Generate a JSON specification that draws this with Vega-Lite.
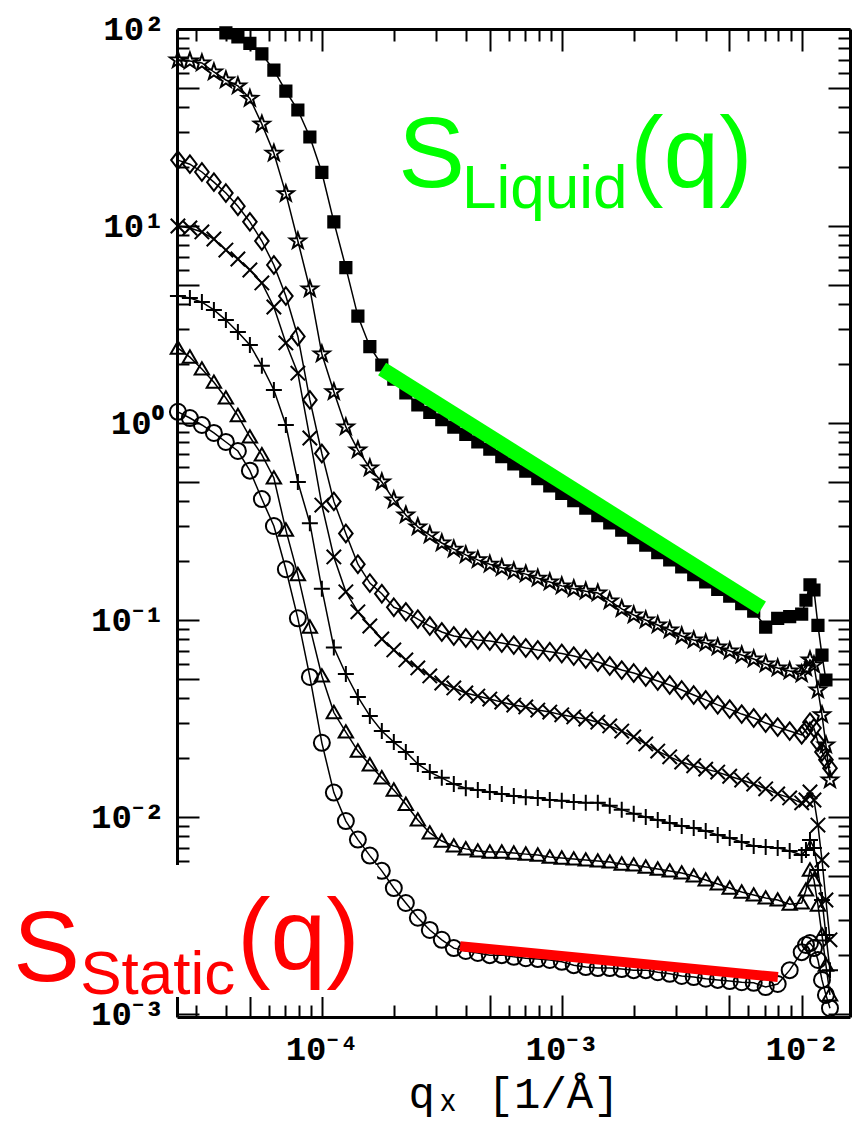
{
  "$schema": "https://vega.github.io/schema/vega-lite/v6.json",
  "width": 673,
  "height": 988,
  "autosize": {"type": "none"},
  "padding": {"left": 177, "top": 29, "right": 5, "bottom": 105},
  "background": "white",
  "config": {
    "view": {"stroke": null},
    "axis": {
      "grid": false,
      "domainColor": "black",
      "domainWidth": 3,
      "tickColor": "black",
      "tickWidth": 2,
      "labelColor": "black",
      "labelFont": "Liberation Mono, Noto Sans",
      "labelFontSize": 34,
      "labelFontWeight": "bold",
      "labelFlush": false,
      "labelOverlap": false,
      "titleColor": "black",
      "titleFont": "Liberation Mono, Noto Sans",
      "titleFontSize": 44,
      "titleFontWeight": "normal"
    }
  },
  "datasets": {
    "curves": [
      {"s":"c1","q":3.981e-5,"v":95.5},{"s":"c1","q":4.467e-5,"v":91.3},{"s":"c1","q":5.012e-5,"v":84.5},{"s":"c1","q":5.623e-5,"v":74.7},{"s":"c1","q":6.31e-5,"v":61.9},{"s":"c1","q":7.079e-5,"v":48.4},{"s":"c1","q":7.943e-5,"v":38.8},{"s":"c1","q":8.913e-5,"v":28.3},{"s":"c1","q":1e-4,"v":18.7},{"s":"c1","q":1.122e-4,"v":10.5},{"s":"c1","q":1.259e-4,"v":6.15},{"s":"c1","q":1.413e-4,"v":3.49},{"s":"c1","q":1.585e-4,"v":2.44},{"s":"c1","q":1.778e-4,"v":1.97},{"s":"c1","q":1.995e-4,"v":1.67},{"s":"c1","q":2.239e-4,"v":1.42},{"s":"c1","q":2.512e-4,"v":1.234},{"s":"c1","q":2.818e-4,"v":1.132},{"s":"c1","q":3.162e-4,"v":1.039},{"s":"c1","q":3.548e-4,"v":0.953},{"s":"c1","q":3.981e-4,"v":0.875},{"s":"c1","q":4.467e-4,"v":0.802},{"s":"c1","q":5.012e-4,"v":0.736},{"s":"c1","q":5.623e-4,"v":0.675},{"s":"c1","q":6.31e-4,"v":0.62},{"s":"c1","q":7.079e-4,"v":0.569},{"s":"c1","q":7.943e-4,"v":0.522},{"s":"c1","q":8.913e-4,"v":0.479},{"s":"c1","q":1e-3,"v":0.439},{"s":"c1","q":1.122e-3,"v":0.403},{"s":"c1","q":1.259e-3,"v":0.37},{"s":"c1","q":1.413e-3,"v":0.339},{"s":"c1","q":1.585e-3,"v":0.311},{"s":"c1","q":1.778e-3,"v":0.286},{"s":"c1","q":1.995e-3,"v":0.262},{"s":"c1","q":2.239e-3,"v":0.24},{"s":"c1","q":2.512e-3,"v":0.22},{"s":"c1","q":2.818e-3,"v":0.202},{"s":"c1","q":3.162e-3,"v":0.186},{"s":"c1","q":3.548e-3,"v":0.17},{"s":"c1","q":3.981e-3,"v":0.156},{"s":"c1","q":4.467e-3,"v":0.143},{"s":"c1","q":5.012e-3,"v":0.132},{"s":"c1","q":5.623e-3,"v":0.121},{"s":"c1","q":6.31e-3,"v":0.111},{"s":"c1","q":7.079e-3,"v":0.092},{"s":"c1","q":7.943e-3,"v":0.102},{"s":"c1","q":8.913e-3,"v":0.104},{"s":"c1","q":0.01,"v":0.107},{"s":"c1","q":0.01042,"v":0.126},{"s":"c1","q":0.01083,"v":0.151},{"s":"c1","q":0.01125,"v":0.142},{"s":"c1","q":0.01169,"v":0.094},{"s":"c1","q":0.01215,"v":0.0664},{"s":"c1","q":0.01262,"v":0.0496},

      {"s":"c2","q":2.512e-5,"v":69.6},{"s":"c2","q":2.818e-5,"v":68.8},{"s":"c2","q":3.162e-5,"v":67.2},{"s":"c2","q":3.548e-5,"v":60.5},{"s":"c2","q":3.981e-5,"v":55.1},{"s":"c2","q":4.467e-5,"v":51.4},{"s":"c2","q":5.012e-5,"v":44.4},{"s":"c2","q":5.623e-5,"v":32.9},{"s":"c2","q":6.31e-5,"v":23.4},{"s":"c2","q":7.079e-5,"v":14.6},{"s":"c2","q":7.943e-5,"v":8.39},{"s":"c2","q":8.913e-5,"v":4.79},{"s":"c2","q":1e-4,"v":2.24},{"s":"c2","q":1.122e-4,"v":1.44},{"s":"c2","q":1.259e-4,"v":0.955},{"s":"c2","q":1.413e-4,"v":0.73},{"s":"c2","q":1.585e-4,"v":0.591},{"s":"c2","q":1.778e-4,"v":0.502},{"s":"c2","q":1.995e-4,"v":0.407},{"s":"c2","q":2.239e-4,"v":0.341},{"s":"c2","q":2.512e-4,"v":0.297},{"s":"c2","q":2.818e-4,"v":0.27},{"s":"c2","q":3.162e-4,"v":0.246},{"s":"c2","q":3.548e-4,"v":0.229},{"s":"c2","q":3.981e-4,"v":0.214},{"s":"c2","q":4.467e-4,"v":0.202},{"s":"c2","q":5.012e-4,"v":0.192},{"s":"c2","q":5.623e-4,"v":0.184},{"s":"c2","q":6.31e-4,"v":0.177},{"s":"c2","q":7.079e-4,"v":0.171},{"s":"c2","q":7.943e-4,"v":0.163},{"s":"c2","q":8.913e-4,"v":0.156},{"s":"c2","q":1e-3,"v":0.149},{"s":"c2","q":1.122e-3,"v":0.144},{"s":"c2","q":1.259e-3,"v":0.14},{"s":"c2","q":1.413e-3,"v":0.137},{"s":"c2","q":1.585e-3,"v":0.125},{"s":"c2","q":1.778e-3,"v":0.114},{"s":"c2","q":1.995e-3,"v":0.106},{"s":"c2","q":2.239e-3,"v":0.1},{"s":"c2","q":2.512e-3,"v":0.0944},{"s":"c2","q":2.818e-3,"v":0.089},{"s":"c2","q":3.162e-3,"v":0.083},{"s":"c2","q":3.548e-3,"v":0.0791},{"s":"c2","q":3.981e-3,"v":0.0764},{"s":"c2","q":4.467e-3,"v":0.0729},{"s":"c2","q":5.012e-3,"v":0.0696},{"s":"c2","q":5.623e-3,"v":0.0664},{"s":"c2","q":6.31e-3,"v":0.0634},{"s":"c2","q":7.079e-3,"v":0.0598},{"s":"c2","q":7.943e-3,"v":0.0571},{"s":"c2","q":8.913e-3,"v":0.0551},{"s":"c2","q":0.01,"v":0.0532},{"s":"c2","q":0.01042,"v":0.057},{"s":"c2","q":0.01083,"v":0.0627},{"s":"c2","q":0.01125,"v":0.0591},{"s":"c2","q":0.01169,"v":0.0441},{"s":"c2","q":0.01215,"v":0.033},{"s":"c2","q":0.01262,"v":0.0232},{"s":"c2","q":0.01312,"v":0.0154},

      {"s":"c3","q":2.512e-5,"v":21.6},{"s":"c3","q":2.818e-5,"v":20.6},{"s":"c3","q":3.162e-5,"v":18.8},{"s":"c3","q":3.548e-5,"v":16.7},{"s":"c3","q":3.981e-5,"v":14.7},{"s":"c3","q":4.467e-5,"v":12.6},{"s":"c3","q":5.012e-5,"v":10.5},{"s":"c3","q":5.623e-5,"v":8.39},{"s":"c3","q":6.31e-5,"v":6.34},{"s":"c3","q":7.079e-5,"v":4.41},{"s":"c3","q":7.943e-5,"v":2.75},{"s":"c3","q":8.913e-5,"v":1.31},{"s":"c3","q":1e-4,"v":0.7},{"s":"c3","q":1.122e-4,"v":0.4},{"s":"c3","q":1.259e-4,"v":0.275},{"s":"c3","q":1.413e-4,"v":0.192},{"s":"c3","q":1.585e-4,"v":0.154},{"s":"c3","q":1.778e-4,"v":0.136},{"s":"c3","q":1.995e-4,"v":0.116},{"s":"c3","q":2.239e-4,"v":0.11},{"s":"c3","q":2.512e-4,"v":0.101},{"s":"c3","q":2.818e-4,"v":0.0932},{"s":"c3","q":3.162e-4,"v":0.0869},{"s":"c3","q":3.548e-4,"v":0.083},{"s":"c3","q":3.981e-4,"v":0.081},{"s":"c3","q":4.467e-4,"v":0.0791},{"s":"c3","q":5.012e-4,"v":0.0782},{"s":"c3","q":5.623e-4,"v":0.0764},{"s":"c3","q":6.31e-4,"v":0.0746},{"s":"c3","q":7.079e-4,"v":0.0721},{"s":"c3","q":7.943e-4,"v":0.0704},{"s":"c3","q":8.913e-4,"v":0.069},{"s":"c3","q":1e-3,"v":0.0676},{"s":"c3","q":1.122e-3,"v":0.0656},{"s":"c3","q":1.259e-3,"v":0.0634},{"s":"c3","q":1.413e-3,"v":0.0612},{"s":"c3","q":1.585e-3,"v":0.0584},{"s":"c3","q":1.778e-3,"v":0.0557},{"s":"c3","q":1.995e-3,"v":0.0538},{"s":"c3","q":2.239e-3,"v":0.0514},{"s":"c3","q":2.512e-3,"v":0.049},{"s":"c3","q":2.818e-3,"v":0.0468},{"s":"c3","q":3.162e-3,"v":0.0441},{"s":"c3","q":3.548e-3,"v":0.0416},{"s":"c3","q":3.981e-3,"v":0.0393},{"s":"c3","q":4.467e-3,"v":0.0371},{"s":"c3","q":5.012e-3,"v":0.0353},{"s":"c3","q":5.623e-3,"v":0.0333},{"s":"c3","q":6.31e-3,"v":0.0318},{"s":"c3","q":7.079e-3,"v":0.03},{"s":"c3","q":7.943e-3,"v":0.0286},{"s":"c3","q":8.913e-3,"v":0.0273},{"s":"c3","q":0.01,"v":0.0261},{"s":"c3","q":0.01042,"v":0.0277},{"s":"c3","q":0.01083,"v":0.0303},{"s":"c3","q":0.01125,"v":0.0283},{"s":"c3","q":0.01169,"v":0.024},{"s":"c3","q":0.01215,"v":0.0214},{"s":"c3","q":0.01262,"v":0.0195},{"s":"c3","q":0.01312,"v":0.0177},

      {"s":"c4","q":2.512e-5,"v":10.0},{"s":"c4","q":2.818e-5,"v":9.77},{"s":"c4","q":3.162e-5,"v":9.33},{"s":"c4","q":3.548e-5,"v":8.59},{"s":"c4","q":3.981e-5,"v":7.55},{"s":"c4","q":4.467e-5,"v":6.8},{"s":"c4","q":5.012e-5,"v":5.98},{"s":"c4","q":5.623e-5,"v":5.14},{"s":"c4","q":6.31e-5,"v":3.88},{"s":"c4","q":7.079e-5,"v":2.55},{"s":"c4","q":7.943e-5,"v":1.79},{"s":"c4","q":8.913e-5,"v":0.839},{"s":"c4","q":1e-4,"v":0.383},{"s":"c4","q":1.122e-4,"v":0.209},{"s":"c4","q":1.259e-4,"v":0.139},{"s":"c4","q":1.413e-4,"v":0.11},{"s":"c4","q":1.585e-4,"v":0.0932},{"s":"c4","q":1.778e-4,"v":0.0801},{"s":"c4","q":1.995e-4,"v":0.0705},{"s":"c4","q":2.239e-4,"v":0.0627},{"s":"c4","q":2.512e-4,"v":0.0571},{"s":"c4","q":2.818e-4,"v":0.052},{"s":"c4","q":3.162e-4,"v":0.0479},{"s":"c4","q":3.548e-4,"v":0.0452},{"s":"c4","q":3.981e-4,"v":0.0426},{"s":"c4","q":4.467e-4,"v":0.0411},{"s":"c4","q":5.012e-4,"v":0.0397},{"s":"c4","q":5.623e-4,"v":0.0383},{"s":"c4","q":6.31e-4,"v":0.037},{"s":"c4","q":7.079e-4,"v":0.0362},{"s":"c4","q":7.943e-4,"v":0.0349},{"s":"c4","q":8.913e-4,"v":0.0341},{"s":"c4","q":1e-3,"v":0.033},{"s":"c4","q":1.122e-3,"v":0.0322},{"s":"c4","q":1.259e-3,"v":0.0314},{"s":"c4","q":1.413e-3,"v":0.0303},{"s":"c4","q":1.585e-3,"v":0.029},{"s":"c4","q":1.778e-3,"v":0.0273},{"s":"c4","q":1.995e-3,"v":0.0255},{"s":"c4","q":2.239e-3,"v":0.0235},{"s":"c4","q":2.512e-3,"v":0.0216},{"s":"c4","q":2.818e-3,"v":0.0202},{"s":"c4","q":3.162e-3,"v":0.019},{"s":"c4","q":3.548e-3,"v":0.0182},{"s":"c4","q":3.981e-3,"v":0.0175},{"s":"c4","q":4.467e-3,"v":0.0169},{"s":"c4","q":5.012e-3,"v":0.0161},{"s":"c4","q":5.623e-3,"v":0.0154},{"s":"c4","q":6.31e-3,"v":0.0147},{"s":"c4","q":7.079e-3,"v":0.0139},{"s":"c4","q":7.943e-3,"v":0.0131},{"s":"c4","q":8.913e-3,"v":0.0125},{"s":"c4","q":0.01,"v":0.0118},{"s":"c4","q":0.01042,"v":0.0122},{"s":"c4","q":0.01083,"v":0.0134},{"s":"c4","q":0.01125,"v":0.0122},{"s":"c4","q":0.01169,"v":0.0091},{"s":"c4","q":0.01215,"v":0.00605},{"s":"c4","q":0.01262,"v":0.00379},{"s":"c4","q":0.01312,"v":0.00238},

      {"s":"c5","q":2.512e-5,"v":4.41},{"s":"c5","q":2.818e-5,"v":4.31},{"s":"c5","q":3.162e-5,"v":4.11},{"s":"c5","q":3.548e-5,"v":3.75},{"s":"c5","q":3.981e-5,"v":3.33},{"s":"c5","q":4.467e-5,"v":2.9},{"s":"c5","q":5.012e-5,"v":2.49},{"s":"c5","q":5.623e-5,"v":1.95},{"s":"c5","q":6.31e-5,"v":1.47},{"s":"c5","q":7.079e-5,"v":0.977},{"s":"c5","q":7.943e-5,"v":0.502},{"s":"c5","q":8.913e-5,"v":0.31},{"s":"c5","q":1e-4,"v":0.144},{"s":"c5","q":1.122e-4,"v":0.0725},{"s":"c5","q":1.259e-4,"v":0.0532},{"s":"c5","q":1.413e-4,"v":0.0407},{"s":"c5","q":1.585e-4,"v":0.0326},{"s":"c5","q":1.778e-4,"v":0.0273},{"s":"c5","q":1.995e-4,"v":0.024},{"s":"c5","q":2.239e-4,"v":0.0214},{"s":"c5","q":2.512e-4,"v":0.0186},{"s":"c5","q":2.818e-4,"v":0.0169},{"s":"c5","q":3.162e-4,"v":0.0158},{"s":"c5","q":3.548e-4,"v":0.0147},{"s":"c5","q":3.981e-4,"v":0.014},{"s":"c5","q":4.467e-4,"v":0.0137},{"s":"c5","q":5.012e-4,"v":0.0134},{"s":"c5","q":5.623e-4,"v":0.0131},{"s":"c5","q":6.31e-4,"v":0.0128},{"s":"c5","q":7.079e-4,"v":0.0126},{"s":"c5","q":7.943e-4,"v":0.0125},{"s":"c5","q":8.913e-4,"v":0.0122},{"s":"c5","q":1e-3,"v":0.0121},{"s":"c5","q":1.122e-3,"v":0.0119},{"s":"c5","q":1.259e-3,"v":0.0118},{"s":"c5","q":1.413e-3,"v":0.0118},{"s":"c5","q":1.585e-3,"v":0.0114},{"s":"c5","q":1.778e-3,"v":0.0109},{"s":"c5","q":1.995e-3,"v":0.0104},{"s":"c5","q":2.239e-3,"v":0.01},{"s":"c5","q":2.512e-3,"v":0.00966},{"s":"c5","q":2.818e-3,"v":0.00933},{"s":"c5","q":3.162e-3,"v":0.009},{"s":"c5","q":3.548e-3,"v":0.00879},{"s":"c5","q":3.981e-3,"v":0.00849},{"s":"c5","q":4.467e-3,"v":0.0081},{"s":"c5","q":5.012e-3,"v":0.00782},{"s":"c5","q":5.623e-3,"v":0.00746},{"s":"c5","q":6.31e-3,"v":0.00713},{"s":"c5","q":7.079e-3,"v":0.00705},{"s":"c5","q":7.943e-3,"v":0.00697},{"s":"c5","q":8.913e-3,"v":0.00672},{"s":"c5","q":0.01,"v":0.00641},{"s":"c5","q":0.01042,"v":0.0068},{"s":"c5","q":0.01083,"v":0.00764},{"s":"c5","q":0.01125,"v":0.00697},{"s":"c5","q":0.01169,"v":0.00538},{"s":"c5","q":0.01215,"v":0.00379},{"s":"c5","q":0.01262,"v":0.00252},{"s":"c5","q":0.01312,"v":0.00167},

      {"s":"c6","q":2.512e-5,"v":2.4},{"s":"c6","q":2.818e-5,"v":2.16},{"s":"c6","q":3.162e-5,"v":1.88},{"s":"c6","q":3.548e-5,"v":1.61},{"s":"c6","q":3.981e-5,"v":1.34},{"s":"c6","q":4.467e-5,"v":1.09},{"s":"c6","q":5.012e-5,"v":0.849},{"s":"c6","q":5.623e-5,"v":0.689},{"s":"c6","q":6.31e-5,"v":0.526},{"s":"c6","q":7.079e-5,"v":0.286},{"s":"c6","q":7.943e-5,"v":0.17},{"s":"c6","q":8.913e-5,"v":0.092},{"s":"c6","q":1e-4,"v":0.052},{"s":"c6","q":1.122e-4,"v":0.0339},{"s":"c6","q":1.259e-4,"v":0.027},{"s":"c6","q":1.413e-4,"v":0.0216},{"s":"c6","q":1.585e-4,"v":0.0184},{"s":"c6","q":1.778e-4,"v":0.0158},{"s":"c6","q":1.995e-4,"v":0.0137},{"s":"c6","q":2.239e-4,"v":0.0116},{"s":"c6","q":2.512e-4,"v":0.00966},{"s":"c6","q":2.818e-4,"v":0.0083},{"s":"c6","q":3.162e-4,"v":0.00755},{"s":"c6","q":3.548e-4,"v":0.00713},{"s":"c6","q":3.981e-4,"v":0.00689},{"s":"c6","q":4.467e-4,"v":0.00672},{"s":"c6","q":5.012e-4,"v":0.00664},{"s":"c6","q":5.623e-4,"v":0.00664},{"s":"c6","q":6.31e-4,"v":0.00656},{"s":"c6","q":7.079e-4,"v":0.00648},{"s":"c6","q":7.943e-4,"v":0.00641},{"s":"c6","q":8.913e-4,"v":0.00626},{"s":"c6","q":1e-3,"v":0.00619},{"s":"c6","q":1.122e-3,"v":0.00612},{"s":"c6","q":1.259e-3,"v":0.00605},{"s":"c6","q":1.413e-3,"v":0.00598},{"s":"c6","q":1.585e-3,"v":0.00591},{"s":"c6","q":1.778e-3,"v":0.00577},{"s":"c6","q":1.995e-3,"v":0.00571},{"s":"c6","q":2.239e-3,"v":0.00557},{"s":"c6","q":2.512e-3,"v":0.00544},{"s":"c6","q":2.818e-3,"v":0.00532},{"s":"c6","q":3.162e-3,"v":0.0052},{"s":"c6","q":3.548e-3,"v":0.00502},{"s":"c6","q":3.981e-3,"v":0.00479},{"s":"c6","q":4.467e-3,"v":0.00457},{"s":"c6","q":5.012e-3,"v":0.00436},{"s":"c6","q":5.623e-3,"v":0.00416},{"s":"c6","q":6.31e-3,"v":0.00402},{"s":"c6","q":7.079e-3,"v":0.00388},{"s":"c6","q":7.943e-3,"v":0.00379},{"s":"c6","q":8.913e-3,"v":0.00361},{"s":"c6","q":0.01,"v":0.00366},{"s":"c6","q":0.01042,"v":0.00426},{"s":"c6","q":0.01083,"v":0.00538},{"s":"c6","q":0.01125,"v":0.00479},{"s":"c6","q":0.01169,"v":0.00357},{"s":"c6","q":0.01215,"v":0.00252},{"s":"c6","q":0.01262,"v":0.00177},{"s":"c6","q":0.01312,"v":0.00125},

      {"s":"c7","q":2.512e-5,"v":1.14},{"s":"c7","q":2.818e-5,"v":1.06},{"s":"c7","q":3.162e-5,"v":0.977},{"s":"c7","q":3.548e-5,"v":0.89},{"s":"c7","q":3.981e-5,"v":0.801},{"s":"c7","q":4.467e-5,"v":0.721},{"s":"c7","q":5.012e-5,"v":0.573},{"s":"c7","q":5.623e-5,"v":0.411},{"s":"c7","q":6.31e-5,"v":0.3},{"s":"c7","q":7.079e-5,"v":0.181},{"s":"c7","q":7.943e-5,"v":0.102},{"s":"c7","q":8.913e-5,"v":0.0514},{"s":"c7","q":1e-4,"v":0.0238},{"s":"c7","q":1.122e-4,"v":0.0133},{"s":"c7","q":1.259e-4,"v":0.00954},{"s":"c7","q":1.413e-4,"v":0.00768},{"s":"c7","q":1.585e-4,"v":0.00637},{"s":"c7","q":1.778e-4,"v":0.00533},{"s":"c7","q":1.995e-4,"v":0.00436},{"s":"c7","q":2.239e-4,"v":0.00366},{"s":"c7","q":2.512e-4,"v":0.00308},{"s":"c7","q":2.818e-4,"v":0.00267},{"s":"c7","q":3.162e-4,"v":0.00238},{"s":"c7","q":3.548e-4,"v":0.00216},{"s":"c7","q":3.981e-4,"v":0.00209},{"s":"c7","q":4.467e-4,"v":0.00204},{"s":"c7","q":5.012e-4,"v":0.00199},{"s":"c7","q":5.623e-4,"v":0.00199},{"s":"c7","q":6.31e-4,"v":0.00195},{"s":"c7","q":7.079e-4,"v":0.00192},{"s":"c7","q":7.943e-4,"v":0.0019},{"s":"c7","q":8.913e-4,"v":0.00188},{"s":"c7","q":1e-3,"v":0.00184},{"s":"c7","q":1.122e-3,"v":0.00177},{"s":"c7","q":1.259e-3,"v":0.00173},{"s":"c7","q":1.413e-3,"v":0.00171},{"s":"c7","q":1.585e-3,"v":0.00171},{"s":"c7","q":1.778e-3,"v":0.00169},{"s":"c7","q":1.995e-3,"v":0.00167},{"s":"c7","q":2.239e-3,"v":0.00167},{"s":"c7","q":2.512e-3,"v":0.00163},{"s":"c7","q":2.818e-3,"v":0.0016},{"s":"c7","q":3.162e-3,"v":0.00156},{"s":"c7","q":3.548e-3,"v":0.00154},{"s":"c7","q":3.981e-3,"v":0.00151},{"s":"c7","q":4.467e-3,"v":0.00149},{"s":"c7","q":5.012e-3,"v":0.00147},{"s":"c7","q":5.623e-3,"v":0.00145},{"s":"c7","q":6.31e-3,"v":0.00144},{"s":"c7","q":7.079e-3,"v":0.00137},{"s":"c7","q":7.943e-3,"v":0.00142},{"s":"c7","q":8.913e-3,"v":0.00167},{"s":"c7","q":0.01,"v":0.00206},{"s":"c7","q":0.01042,"v":0.00224},{"s":"c7","q":0.01083,"v":0.00229},{"s":"c7","q":0.01125,"v":0.00216},{"s":"c7","q":0.01169,"v":0.00188},{"s":"c7","q":0.01215,"v":0.00149},{"s":"c7","q":0.01262,"v":0.00125},{"s":"c7","q":0.01312,"v":0.00107}
    ]
  },
  "resolve": {"axis": {"x": "independent", "y": "independent"}},
  "layer": [
    {
      "data": {"name": "curves"},
      "mark": {"type": "line", "color": "black", "strokeWidth": 1.5},
      "encoding": {
        "x": {
          "field": "q", "type": "quantitative",
          "scale": {"type": "log", "domain": [2.49e-5, 1.59e-2], "nice": false},
          "axis": {
            "orient": "bottom", "values": [1e-4, 1e-3, 1e-2], "ticks": false,
            "labelPadding": 15, "labelBaseline": "top",
            "labelExpr": "datum.value < 5e-4 ? '10⁻⁴' : datum.value < 5e-3 ? '10⁻³' : '10⁻²'",
            "title": "qₓ [1/Å]", "titlePadding": 6
          }
        },
        "y": {
          "field": "v", "type": "quantitative",
          "scale": {"type": "log", "domain": [9.656e-4, 100], "nice": false},
          "axis": {
            "orient": "left", "values": [0.001, 0.01, 0.1, 1, 10, 100], "ticks": false,
            "labelPadding": 13,
            "labelExpr": "datum.value < 0.005 ? '10⁻³' : datum.value < 0.05 ? '10⁻²' : datum.value < 0.5 ? '10⁻¹' : datum.value < 5 ? '10⁰' : datum.value < 50 ? '10¹' : '10²'",
            "title": null
          }
        },
        "detail": {"field": "s"}
      }
    },
    {
      "data": {"name": "curves"},
      "mark": {"type": "point", "filled": true, "stroke": "black", "strokeWidth": 2, "opacity": 1, "size": 256},
      "encoding": {
        "x": {
          "field": "q", "type": "quantitative",
          "scale": {"type": "log", "domain": [2.49e-5, 1.59e-2], "nice": false},
          "axis": {
            "orient": "bottom", "domain": false, "labels": false, "title": null,
            "values": [3e-5, 4e-5, 5e-5, 6e-5, 7e-5, 8e-5, 9e-5, 1e-4, 2e-4, 3e-4, 4e-4, 5e-4, 6e-4, 7e-4, 8e-4, 9e-4, 1e-3, 2e-3, 3e-3, 4e-3, 5e-3, 6e-3, 7e-3, 8e-3, 9e-3, 1e-2],
            "tickSize": {"condition": {"test": "abs(datum.value/pow(10,floor(log(datum.value)/LN10+1e-6))-1)<0.05 || abs(datum.value/pow(10,floor(log(datum.value)/LN10+1e-6))-5)<0.05", "value": -22}, "value": -12}
          }
        },
        "y": {
          "field": "v", "type": "quantitative",
          "scale": {"type": "log", "domain": [9.656e-4, 100], "nice": false},
          "axis": {
            "orient": "left", "domain": false, "labels": false, "title": null,
            "values": [0.001, 0.002, 0.003, 0.004, 0.005, 0.006, 0.007, 0.008, 0.009, 0.01, 0.02, 0.03, 0.04, 0.05, 0.06, 0.07, 0.08, 0.09, 0.1, 0.2, 0.3, 0.4, 0.5, 0.6, 0.7, 0.8, 0.9, 1, 2, 3, 4, 5, 6, 7, 8, 9, 10, 20, 30, 40, 50, 60, 70, 80, 90, 100],
            "tickSize": {"condition": {"test": "abs(datum.value/pow(10,floor(log(datum.value)/LN10+1e-6))-1)<0.05 || abs(datum.value/pow(10,floor(log(datum.value)/LN10+1e-6))-5)<0.05", "value": -22}, "value": -12}
          }
        },
        "shape": {
          "field": "s", "type": "nominal", "legend": null,
          "scale": {
            "domain": ["c1", "c2", "c3", "c4", "c5", "c6", "c7"],
            "range": [
              "M-0.7,-0.7L0.7,-0.7L0.7,0.7L-0.7,0.7Z",
              "M0,-1.05L0.25,-0.34L1,-0.32L0.4,0.13L0.62,0.85L0,0.42L-0.62,0.85L-0.4,0.13L-1,-0.32L-0.25,-0.34Z",
              "M0,-1.1L0.85,0L0,1.1L-0.85,0Z",
              "M-0.9,-0.9L0.9,0.9M-0.9,0.9L0.9,-0.9",
              "M-1,0L1,0M0,-1L0,1",
              "M0,-0.85L0.9,0.7L-0.9,0.7Z",
              "circle"
            ]
          }
        },
        "fill": {
          "field": "s", "type": "nominal", "legend": null,
          "scale": {
            "domain": ["c1", "c2", "c3", "c4", "c5", "c6", "c7"],
            "range": ["black", "transparent", "transparent", "transparent", "transparent", "transparent", "transparent"]
          }
        }
      }
    },
    {
      "data": {"values": [{"q": 1.783e-4, "v": 1.88}, {"q": 6.83e-3, "v": 0.1151}]},
      "mark": {"type": "line", "color": "#00ff00", "strokeWidth": 15, "strokeCap": "butt"},
      "encoding": {
        "x": {
          "field": "q", "type": "quantitative",
          "scale": {"type": "log", "domain": [2.49e-5, 1.59e-2], "nice": false},
          "axis": {
            "orient": "top", "domain": true, "labels": false, "title": null,
            "values": [3e-5, 4e-5, 5e-5, 6e-5, 7e-5, 8e-5, 9e-5, 1e-4, 2e-4, 3e-4, 4e-4, 5e-4, 6e-4, 7e-4, 8e-4, 9e-4, 1e-3, 2e-3, 3e-3, 4e-3, 5e-3, 6e-3, 7e-3, 8e-3, 9e-3, 1e-2],
            "tickSize": {"condition": {"test": "abs(datum.value/pow(10,floor(log(datum.value)/LN10+1e-6))-1)<0.05 || abs(datum.value/pow(10,floor(log(datum.value)/LN10+1e-6))-5)<0.05", "value": -22}, "value": -12}
          }
        },
        "y": {
          "field": "v", "type": "quantitative",
          "scale": {"type": "log", "domain": [9.656e-4, 100], "nice": false},
          "axis": {
            "orient": "right", "domain": true, "labels": false, "title": null,
            "values": [0.001, 0.002, 0.003, 0.004, 0.005, 0.006, 0.007, 0.008, 0.009, 0.01, 0.02, 0.03, 0.04, 0.05, 0.06, 0.07, 0.08, 0.09, 0.1, 0.2, 0.3, 0.4, 0.5, 0.6, 0.7, 0.8, 0.9, 1, 2, 3, 4, 5, 6, 7, 8, 9, 10, 20, 30, 40, 50, 60, 70, 80, 90, 100],
            "tickSize": {"condition": {"test": "abs(datum.value/pow(10,floor(log(datum.value)/LN10+1e-6))-1)<0.05 || abs(datum.value/pow(10,floor(log(datum.value)/LN10+1e-6))-5)<0.05", "value": -22}, "value": -12}
          }
        }
      }
    },
    {
      "data": {"values": [{"q": 3.77e-4, "v": 2.21e-3}, {"q": 7.96e-3, "v": 1.54e-3}]},
      "mark": {"type": "line", "color": "#ff0000", "strokeWidth": 10, "strokeCap": "butt"},
      "encoding": {
        "x": {"field": "q", "type": "quantitative", "scale": {"type": "log", "domain": [2.49e-5, 1.59e-2], "nice": false}, "axis": null},
        "y": {"field": "v", "type": "quantitative", "scale": {"type": "log", "domain": [9.656e-4, 100], "nice": false}, "axis": null}
      }
    },
    {
      "data": {"values": [{"q1": 4.57e-6, "q2": 1.70e-4, "v1": 1.22e-3, "v2": 5.71e-3}]},
      "mark": {"type": "rect", "color": "white"},
      "encoding": {
        "x": {"field": "q1", "type": "quantitative", "scale": {"type": "log", "domain": [2.49e-5, 1.59e-2], "nice": false}, "axis": null},
        "x2": {"field": "q2"},
        "y": {"field": "v1", "type": "quantitative", "scale": {"type": "log", "domain": [9.656e-4, 100], "nice": false}, "axis": null},
        "y2": {"field": "v2"}
      }
    },
    {
      "data": {"values": [
        {"t": "S", "q": 2.08e-4, "v": 15.8, "c": "liquid"},
        {"t": "(q)", "q": 1.93e-3, "v": 15.8, "c": "liquid"},
        {"t": "S", "q": 5.17e-6, "v": 1.47e-3, "c": "static"},
        {"t": "(q)", "q": 4.44e-5, "v": 1.70e-3, "c": "static"}
      ]},
      "mark": {"type": "text", "font": "Liberation Sans", "fontSize": 100, "align": "left", "baseline": "alphabetic"},
      "encoding": {
        "x": {"field": "q", "type": "quantitative", "scale": {"type": "log", "domain": [2.49e-5, 1.59e-2], "nice": false}, "axis": null},
        "y": {"field": "v", "type": "quantitative", "scale": {"type": "log", "domain": [9.656e-4, 100], "nice": false}, "axis": null},
        "text": {"field": "t"},
        "color": {"field": "c", "type": "nominal", "legend": null, "scale": {"domain": ["liquid", "static"], "range": ["#00ff00", "#ff0000"]}}
      }
    },
    {
      "data": {"values": [
        {"t": "Liquid", "q": 3.84e-4, "v": 12.3, "c": "liquid"},
        {"t": "Static", "q": 9.84e-6, "v": 1.26e-3, "c": "static"}
      ]},
      "mark": {"type": "text", "font": "Liberation Sans", "fontSize": 62, "align": "left", "baseline": "alphabetic"},
      "encoding": {
        "x": {"field": "q", "type": "quantitative", "scale": {"type": "log", "domain": [2.49e-5, 1.59e-2], "nice": false}, "axis": null},
        "y": {"field": "v", "type": "quantitative", "scale": {"type": "log", "domain": [9.656e-4, 100], "nice": false}, "axis": null},
        "text": {"field": "t"},
        "color": {"field": "c", "type": "nominal", "legend": null, "scale": {"domain": ["liquid", "static"], "range": ["#00ff00", "#ff0000"]}}
      }
    }
  ]
}
